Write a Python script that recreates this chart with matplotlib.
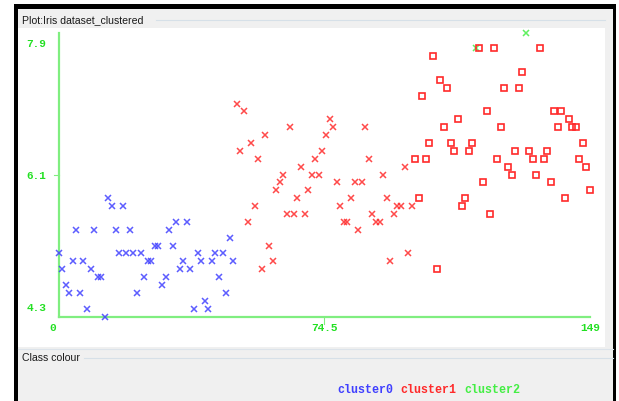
import matplotlib
matplotlib.use("Agg")
import matplotlib.pyplot as plt
from matplotlib.patches import Rectangle

# sepal length of each instance (x axis is the instance number)
sepal_length = [
    5.1, 4.9, 4.7, 4.6, 5.0, 5.4, 4.6, 5.0, 4.4, 4.9, 5.4, 4.8, 4.8, 4.3, 5.8, 5.7, 5.4, 5.1, 5.7, 5.1, 5.4, 5.1, 4.6, 5.1, 4.8,
    5.0, 5.0, 5.2, 5.2, 4.7, 4.8, 5.4, 5.2, 5.5, 4.9, 5.0, 5.5, 4.9, 4.4, 5.1, 5.0, 4.5, 4.4, 5.0, 5.1, 4.8, 5.1, 4.6, 5.3, 5.0,
    7.0, 6.4, 6.9, 5.5, 6.5, 5.7, 6.3, 4.9, 6.6, 5.2, 5.0, 5.9, 6.0, 6.1, 5.6, 6.7, 5.6, 5.8, 6.2, 5.6, 5.9, 6.1, 6.3, 6.1, 6.4,
    6.6, 6.8, 6.7, 6.0, 5.7, 5.5, 5.5, 5.8, 6.0, 5.4, 6.0, 6.7, 6.3, 5.6, 5.5, 5.5, 6.1, 5.8, 5.0, 5.6, 5.7, 5.7, 6.2, 5.1, 5.7,
    6.3, 5.8, 7.1, 6.3, 6.5, 7.6, 4.9, 7.3, 6.7, 7.2, 6.5, 6.4, 6.8, 5.7, 5.8, 6.4, 6.5, 7.7, 7.7, 6.0, 6.9, 5.6, 7.7, 6.3, 6.7,
    7.2, 6.2, 6.1, 6.4, 7.2, 7.4, 7.9, 6.4, 6.3, 6.1, 7.7, 6.3, 6.4, 6.0, 6.9, 6.7, 6.9, 5.8, 6.8, 6.7, 6.7, 6.3, 6.5, 6.2, 5.9,
]

# true class of each instance: 0 setosa, 1 versicolor, 2 virginica
iris_class = [
    0, 0, 0, 0, 0, 0, 0, 0, 0, 0, 0, 0, 0, 0, 0, 0, 0, 0, 0, 0, 0, 0, 0, 0, 0,
    0, 0, 0, 0, 0, 0, 0, 0, 0, 0, 0, 0, 0, 0, 0, 0, 0, 0, 0, 0, 0, 0, 0, 0, 0,
    1, 1, 1, 1, 1, 1, 1, 1, 1, 1, 1, 1, 1, 1, 1, 1, 1, 1, 1, 1, 1, 1, 1, 1, 1,
    1, 1, 1, 1, 1, 1, 1, 1, 1, 1, 1, 1, 1, 1, 1, 1, 1, 1, 1, 1, 1, 1, 1, 1, 1,
    2, 2, 2, 2, 2, 2, 2, 2, 2, 2, 2, 2, 2, 2, 2, 2, 2, 2, 2, 2, 2, 2, 2, 2, 2,
    2, 2, 2, 2, 2, 2, 2, 2, 2, 2, 2, 2, 2, 2, 2, 2, 2, 2, 2, 2, 2, 2, 2, 2, 2,
]

# cluster assigned to each instance
cluster = [
    0, 0, 0, 0, 0, 0, 0, 0, 0, 0, 0, 0, 0, 0, 0, 0, 0, 0, 0, 0, 0, 0, 0, 0, 0,
    0, 0, 0, 0, 0, 0, 0, 0, 0, 0, 0, 0, 0, 0, 0, 0, 0, 0, 0, 0, 0, 0, 0, 0, 0,
    1, 1, 1, 1, 1, 1, 1, 1, 1, 1, 1, 1, 1, 1, 1, 1, 1, 1, 1, 1, 1, 1, 1, 1, 1,
    1, 1, 1, 1, 1, 1, 1, 1, 1, 1, 1, 1, 1, 1, 1, 1, 1, 1, 1, 1, 1, 1, 1, 1, 1,
    1, 1, 1, 1, 1, 1, 1, 1, 1, 1, 1, 1, 1, 1, 1, 1, 1, 2, 1, 1, 1, 1, 1, 1, 1,
    1, 1, 1, 1, 1, 1, 2, 1, 1, 1, 1, 1, 1, 1, 1, 1, 1, 1, 1, 1, 1, 1, 1, 1, 1,
]

cluster_names = ["cluster0", "cluster1", "cluster2"]
cluster_colors = ["#4040ff", "#ff2a2a", "#44ee44"]
x_ticks = [0, 74.5, 149]
y_ticks = [4.3, 6.1, 7.9]

W, H = 619, 401
fig = plt.figure(figsize=(W / 100, H / 100), dpi=100)
fig.patch.set_facecolor("white")

# window frame drawn in pixel coordinates
bg = fig.add_axes([0, 0, 1, 1])
bg.set_xlim(0, W)
bg.set_ylim(H, 0)
bg.axis("off")
bg.add_patch(Rectangle((14, 4), 602, 400, color="black", lw=0))
bg.add_patch(Rectangle((18, 9), 595, 400, color="#f0f0f0", lw=0))
bg.add_patch(Rectangle((18, 28), 587, 319, color="white", lw=0))
bg.plot([156, 605], [20, 20], color="#d6e0e8", lw=0.8)
bg.plot([18, 613], [349, 349], color="#dce3ea", lw=0.8)
bg.plot([84, 613], [358, 358], color="#d6e0e8", lw=0.8)
bg.text(22, 20, "Plot:Iris dataset_clustered", family="Liberation Sans",
        fontsize=7.6, color="#1a1a1a", va="center", ha="left")
bg.text(22, 358, "Class colour", family="Liberation Sans",
        fontsize=7.6, color="#1a1a1a", va="center", ha="left")

# cluster legend as coloured monospace words
legend_x = 337
for name, col in zip(cluster_names, cluster_colors):
    bg.text(legend_x, 390, name, family="Liberation Mono", fontsize=8.4,
            color=col, va="center", ha="left", fontweight="bold")
    legend_x += 63.7

# scatter axes: instance 0..149 spans x 58.5..590, sepal 4.3..7.9 spans y 316.5..32.5
x0, x1 = 58.5, 590.0
y0, y1 = 316.5, 32.5
ax = fig.add_axes([x0 / W, (H - y0) / H, (x1 - x0) / W, (y0 - y1) / H])
ax.set_xlim(0, 149)
ax.set_ylim(4.3, 7.9)
ax.axis("off")
ax.patch.set_alpha(0)

axis_green = "#80ee80"
ax.plot([0, 0], [4.3, 7.9], color=axis_green, lw=1.6, clip_on=False)
ax.plot([0, 149], [4.3, 4.3], color=axis_green, lw=1.6, clip_on=False)
ax.plot([74.5, 74.5], [4.3, 4.21], color=axis_green, lw=0.8, clip_on=False)
ax.plot([-1.2, 0], [6.1, 6.1], color=axis_green, lw=0.8, clip_on=False)

label_green = "#22e022"
for lab, va in zip(y_ticks, ["bottom", "center", "top"]):
    off = {"bottom": 0.05, "center": -0.02, "top": -0.08}[va]
    ax.text(-3.5, lab + off, f"{lab}", family="Liberation Mono", fontsize=8,
            color=label_green, ha="right", va=va, fontweight="bold")
for lab in x_ticks:
    txt = f"{lab:g}"
    ax.text(lab - (1.5 if lab == 0 else 0), 4.3 - 0.15, txt, family="Liberation Mono",
            fontsize=8, color=label_green, ha="center", va="center", fontweight="bold")

# points: squares mark instances whose cluster differs from the class's cluster
for idx, (val, cl, cls) in enumerate(zip(sepal_length, cluster, iris_class)):
    col = cluster_colors[cl]
    if cl == cls:
        ax.plot(idx, val, marker="x", ms=4, mew=1.1, color=col, alpha=0.85,
                clip_on=False, zorder=3)
    else:
        ax.plot(idx, val, marker="s", ms=4.4, mew=1.2, mfc="none", mec=col,
                clip_on=False, zorder=3)

fig.savefig("out.png", dpi=100)
